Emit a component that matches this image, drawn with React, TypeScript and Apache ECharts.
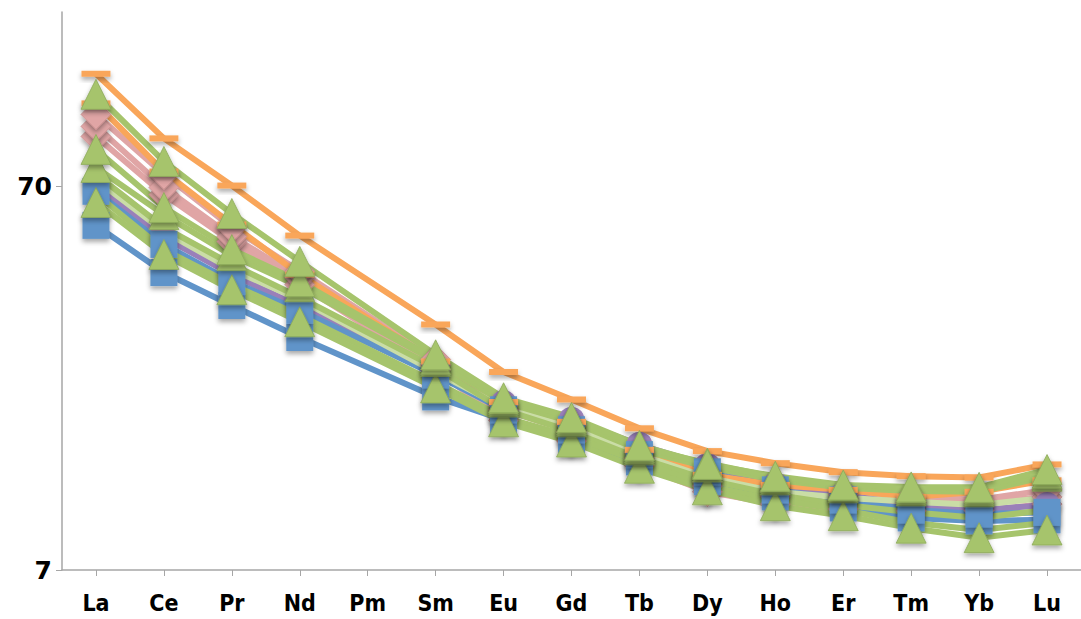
import { useEffect, useRef } from "react";
import * as echarts from "echarts";

// Rare earth elements along the x axis (Pm has no analyses)
const elements = ["La", "Ce", "Pr", "Nd", "Pm", "Sm", "Eu", "Gd", "Tb", "Dy", "Ho", "Er", "Tm", "Yb", "Lu"];

// Log axis: labelled decades and the axis top
const yTickValues = [7, 70];
const yMax = 200;

// Chondrite-normalised abundances, one array per sample
const orangeA = [138, 93.6, 70.5, 52.2, null, 30.6, 23.0, 19.5, 16.4, 14.3, 13.3, 12.6, 12.3, 12.2, 13.2];
const orangeB = [115.5, 76.7, 55.8, 41.3, null, 24.5, 19.2, 17.05, 14.41, 12.4, 11.67, 11.33, 10.86, 11.2, 12.0];
const pinkA = [108.1, 75.4, 54.8, 42.1, null, 24.8, 18.9, 16.75, 14.2, 11.9, 11.2, 11.0, 10.86, 10.67, 11.33];
const pinkB = [100.6, 69.7, 51.9, 40.6, null, 24.0, 18.33, 16.07, 13.7, 11.6, 10.9, 10.67, 10.5, 10.5, 10.86];
const pinkC = [94.7, 66.8, 50.4, 38.9, null, 23.3, 17.2, 15.2, 13.1, 11.2, 10.4, 10.1, 10.0, 10.0, 10.4];
const purple = [70.1, 51.6, 41.3, 34.1, null, 23.3, 19.1, 17.26, 14.85, 13.1, 11.67, 11.0, 10.35, 10.04, 10.35];
const blueA = [68.1, 49.5, 39.6, 33.3, null, 22.6, 18.33, 16.26, 14.0, 12.63, 11.33, 10.67, 10.04, 9.8, 9.9];
const blueB = [55.5, 41.8, 34.3, 28.3, null, 19.8, 17.26, 15.31, 13.4, 11.9, 10.86, 10.16, 9.57, 9.4, 9.46];
const paleGreen = [73.1, 53.5, 42.6, 35.5, null, 23.0, 18.6, 16.45, 14.0, 12.2, 11.2, 10.8, 10.55, 10.35, 10.8];
const greenA = [122.0, 81.5, 59.6, 44.7, null, 25.5, 19.7, 17.5, 14.8, 13.2, 12.3, 11.67, 11.53, 11.5, 12.8];
const greenB = [87.6, 61.8, 48.0, 39.6, null, 24.8, 19.47, 17.26, 14.6, 13.3, 12.2, 11.6, 11.4, 11.33, 12.5];
const greenC = [78.6, 59.2, 46.3, 38.4, null, 24.5, 19.2, 17.05, 14.41, 13.0, 12.03, 11.47, 11.26, 11.2, 12.3];
const greenD = [75.4, 54.8, 43.9, 36.0, null, 23.6, 18.33, 16.07, 13.7, 12.03, 11.0, 10.35, 9.9, 9.57, 10.04];
const greenE = [67.0, 48.0, 38.9, 32.3, null, 21.6, 17.5, 15.6, 13.4, 11.6, 10.67, 10.04, 9.3, 8.9, 9.3];
const greenF = [63.7, 46.6, 37.7, 31.1, null, 20.9, 17.05, 15.1, 12.9, 11.33, 10.3, 9.7, 9.0, 8.5, 8.9];

const ORANGE = "#F9A65A";
const PINK = "#E0A5A5";
const PURPLE = "#9A80B9";
const BLUE = "#6094C9";
const GREEN = "#A6C46C";
const PALE_GREEN = "#CADDA6";

type Style = {
  data: (number | null)[];
  color: string;
  symbol: string;
  size: number | number[];
  border?: string;
};

// Drawing order: later entries sit on top (all lines first, then all markers)
const samples: Style[] = [
  { data: pinkC, color: PINK, symbol: "diamond", size: 30, border: "#C98F8F" },
  { data: pinkB, color: PINK, symbol: "diamond", size: 30, border: "#C98F8F" },
  { data: pinkA, color: PINK, symbol: "diamond", size: 30, border: "#C98F8F" },
  { data: purple, color: PURPLE, symbol: "circle", size: 26 },
  { data: blueB, color: BLUE, symbol: "rect", size: 27 },
  { data: blueA, color: BLUE, symbol: "rect", size: 27 },
  { data: orangeB, color: ORANGE, symbol: "rect", size: [29, 6] },
  { data: orangeA, color: ORANGE, symbol: "rect", size: [29, 6] },
  { data: paleGreen, color: PALE_GREEN, symbol: "none", size: 0 },
  { data: greenD, color: GREEN, symbol: "none", size: 0 },
  { data: greenE, color: GREEN, symbol: "none", size: 0 },
  { data: greenF, color: GREEN, symbol: "triangle", size: 30, border: "#8DA95A" },
  { data: greenC, color: GREEN, symbol: "triangle", size: 30, border: "#8DA95A" },
  { data: greenB, color: GREEN, symbol: "triangle", size: 30, border: "#8DA95A" },
  { data: greenA, color: GREEN, symbol: "triangle", size: 30, border: "#8DA95A" },
];

const base = yTickValues[0];
const toAxis = (v: number | null) => (v == null ? null : Math.log10(v / base));

export default function App() {
  const ref = useRef<HTMLDivElement>(null);

  useEffect(() => {
    if (!ref.current) return;
    const chart = echarts.init(ref.current, undefined, { renderer: "svg" });
    const axisGray = "#A6A6A6";
    const tickPositions = yTickValues.map((v) => Math.log10(v / base));
    const xFont = "'DejaVu Sans Condensed', 'DejaVu Sans', sans-serif";
    const yFont = "'DejaVu Sans', sans-serif";

    const lineSeries = samples.map((s) => ({
      type: "line",
      data: s.data.map(toAxis),
      connectNulls: true,
      symbol: "none",
      showSymbol: false,
      lineStyle: { color: s.color, width: 6 },
      itemStyle: { color: s.color },
      emphasis: { disabled: true },
      silent: true,
    }));

    const markerSeries = samples
      .filter((s) => s.symbol !== "none")
      .map((s) => ({
        type: "line",
        data: s.data.map(toAxis),
        connectNulls: true,
        symbol: s.symbol,
        symbolSize: s.size,
        showSymbol: true,
        lineStyle: { width: 0, opacity: 0 },
        itemStyle: {
          color: s.color,
          borderColor: s.border ?? s.color,
          borderWidth: s.border ? 0.8 : 0,
          shadowColor: "rgba(0,0,0,0.35)",
          shadowBlur: 5,
          shadowOffsetY: 3,
        },
        emphasis: { disabled: true },
        silent: true,
      }));

    chart.setOption({
      animation: false,
      backgroundColor: "#FFFFFF",
      grid: { left: 62, top: 12, width: 1026, height: 558, containLabel: false },
      xAxis: {
        type: "category",
        data: elements,
        boundaryGap: true,
        axisLine: { show: true, lineStyle: { color: axisGray, width: 1.5 } },
        axisTick: { show: true, alignWithLabel: true, length: 6, lineStyle: { color: axisGray, width: 1 } },
        axisLabel: { color: "#000", fontWeight: "bold", fontSize: 23, margin: 21, fontFamily: xFont },
        splitLine: { show: false },
      },
      yAxis: {
        type: "value",
        min: 0,
        max: Math.log10(yMax / base),
        interval: 1,
        axisLine: { show: true, lineStyle: { color: axisGray, width: 1.5 } },
        axisTick: { show: true, length: 6, customValues: tickPositions, lineStyle: { color: axisGray, width: 1 } },
        axisLabel: {
          color: "#000",
          fontWeight: "bold",
          fontSize: 25,
          margin: 10,
          fontFamily: yFont,
          customValues: tickPositions,
          formatter: (v: number) => String(Math.round(base * Math.pow(10, v))),
        },
        splitLine: {
          show: true,
          showMinLine: false,
          showMaxLine: false,
          lineStyle: { color: axisGray, width: 1.5 },
        },
      },
      series: [...lineSeries, ...markerSeries],
    });

    return () => chart.dispose();
  }, []);

  return (
    <div
      ref={ref}
      style={{ position: "absolute", left: 0, top: 0, width: 1081, height: 619 }}
    />
  );
}
